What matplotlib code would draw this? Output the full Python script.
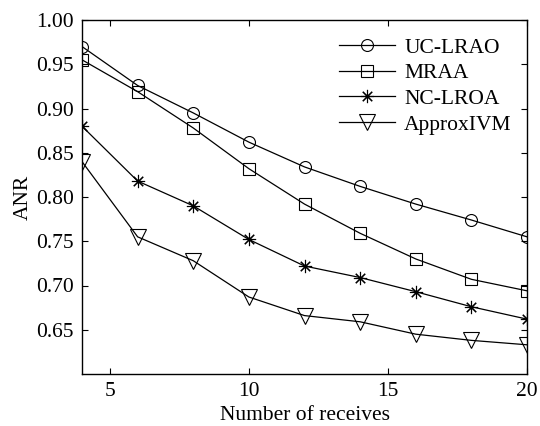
import numpy as np
import matplotlib
matplotlib.use("Agg")
import matplotlib.pyplot as plt

plt.rcParams['font.family'] = ['Liberation Serif', 'DejaVu Serif']

# data
receives = [4, 6, 8, 10, 12, 14, 16, 18, 20]
uc_lrao = [0.970, 0.926, 0.895, 0.862, 0.834, 0.812, 0.792, 0.774, 0.755]
mraa = [0.955, 0.919, 0.878, 0.832, 0.792, 0.759, 0.730, 0.707, 0.694]
nc_lroa = [0.880, 0.818, 0.790, 0.752, 0.722, 0.709, 0.693, 0.676, 0.662]
approx_ivm = [0.840, 0.755, 0.728, 0.687, 0.666, 0.659, 0.645, 0.638, 0.633]

fig = plt.figure(figsize=(5.4, 4.26), dpi=100)
ax = fig.add_axes([82/540, 1 - 374/426, 445/540, 354/426])

style = dict(color='black', linewidth=0.9, markerfacecolor='none',
             markeredgecolor='black', markeredgewidth=0.8)
ax.plot(receives, uc_lrao, marker='o', markersize=8.6, label='UC-LRAO', **style)
ax.plot(receives, mraa, marker='s', markersize=8.8, label='MRAA', **style)
ax.plot(receives, nc_lroa, marker=(8, 2, 0), markersize=9.5, label='NC-LROA', **style)
ax.plot(receives, approx_ivm, marker='v', markersize=11, label='ApproxIVM', **style)

ax.set_xlim(4, 20)
ax.set_ylim(0.6, 1.0)
ax.set_xticks([5, 10, 15, 20])
ax.set_yticks([0.65, 0.70, 0.75, 0.80, 0.85, 0.90, 0.95, 1.00])
ax.set_yticklabels(['%.2f' % v for v in ax.get_yticks()])
ax.tick_params(direction='in', top=True, right=True, length=4, width=0.8,
               labelsize=15.5, pad=6)
for s in ax.spines.values():
    s.set_linewidth(1.0)

ax.set_xlabel('Number of receives', fontsize=15.5, labelpad=3)
ax.set_ylabel('ANR', fontsize=15.5, labelpad=2)

ax.legend(loc='upper right', frameon=False, fontsize=15.5, handlelength=2.6,
          handletextpad=0.45, labelspacing=0.26, borderaxespad=0.0,
          bbox_to_anchor=(0.985, 0.975))

fig.savefig('out.png', dpi=100)
